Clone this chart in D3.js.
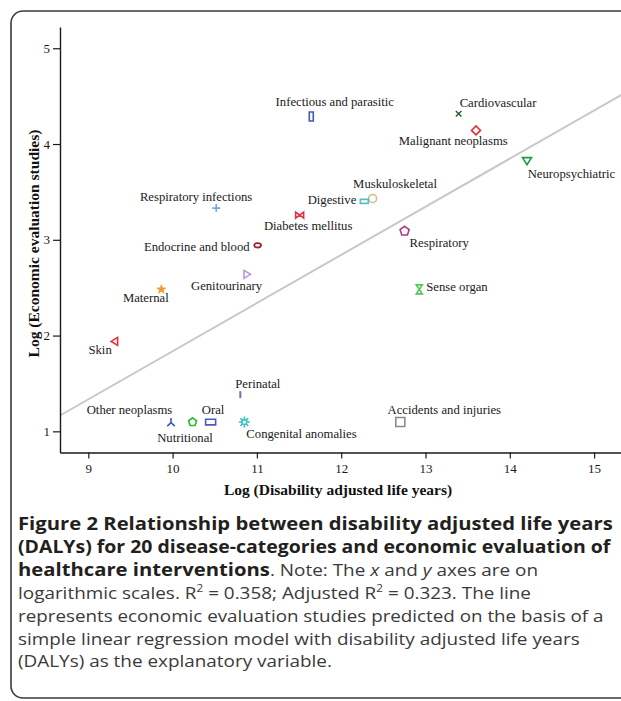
<!DOCTYPE html>
<html>
<head>
<meta charset="utf-8">
<script src="https://cdn.jsdelivr.net/npm/d3@7"></script>
<style>
  html, body { margin: 0; padding: 0; background: #fff; }
  svg { display: block; }
  .cap { white-space: pre; }
</style>
</head>
<body>
<svg id="chart" width="621" height="701"></svg>
<script>
// ---- Data ----
const categories = [
  "Infectious and parasitic", "Cardiovascular", "Malignant neoplasms", "Neuropsychiatric",
  "Muskuloskeletal", "Digestive", "Diabetes mellitus", "Respiratory infections",
  "Endocrine and blood", "Respiratory", "Genitourinary", "Maternal", "Sense organ",
  "Skin", "Perinatal", "Other neoplasms", "Nutritional", "Oral",
  "Congenital anomalies", "Accidents and injuries"
];
const logDALYs = [
  11.645, 13.393, 13.599, 14.204,
  12.373, 12.274, 11.507, 10.518,
  11.008, 12.752, 10.882, 9.866, 12.926,
  9.312, 10.803, 9.981, 10.237, 10.451,
  10.851, 12.701
];
const logStudies = [
  4.288, 4.316, 4.142, 3.821,
  3.432, 3.401, 3.258, 3.331,
  2.942, 3.091, 2.639, 2.482, 2.482,
  1.939, 1.383, 1.097, 1.097, 1.097,
  1.097, 1.097
];
const xTicks = [9, 10, 11, 12, 13, 14, 15];
const yTicks = [1, 2, 3, 4, 5];
// regression line: studies = intercept + slope * DALYs
const regIntercept = -3.190;
const regSlope = 0.5027;

// ---- Styles (marker shape, colour, label placement) ----
const styles = {
  "Infectious and parasitic": {shape: "tallRect", color: "#3b5cb0", dx: 23.5, dy: -10, anchor: "middle"},
  "Cardiovascular":           {shape: "cross",    color: "#1d5e30", dx: 1,    dy: -7,  anchor: "start"},
  "Malignant neoplasms":      {shape: "diamond",  color: "#e8303a", dx: -22.7,dy: 14.3,anchor: "middle"},
  "Neuropsychiatric":         {shape: "triDown",  color: "#1a9a48", dx: 0.7,  dy: 17,  anchor: "start"},
  "Muskuloskeletal":          {shape: "circle",   color: "#c9c28a", dx: 22.4, dy: -10.7,anchor: "middle"},
  "Digestive":                {shape: "wideRect", color: "#5cbcc8", dx: -8,   dy: 3,   anchor: "end"},
  "Diabetes mellitus":        {shape: "bowtie",   color: "#e83040", dx: 8.5,  dy: 14.6,anchor: "middle"},
  "Respiratory infections":   {shape: "plus",     color: "#78a6da", dx: -20.2,dy: -7,  anchor: "middle"},
  "Endocrine and blood":      {shape: "ellipse",  color: "#a01c2c", dx: -8,   dy: 5.7, anchor: "end"},
  "Respiratory":              {shape: "pentagon", color: "#b03a88", dx: 5,    dy: 16,  anchor: "start"},
  "Genitourinary":            {shape: "triRight", color: "#b89ad8", dx: -20.4,dy: 15.3,anchor: "middle"},
  "Maternal":                 {shape: "star",     color: "#f59a2a", dx: -15.5,dy: 12.7,anchor: "middle"},
  "Sense organ":              {shape: "hourglass",color: "#4cc850", dx: 7,    dy: 2,   anchor: "start"},
  "Skin":                     {shape: "triLeft",  color: "#e8303a", dx: -14.5,dy: 12.3,anchor: "middle"},
  "Perinatal":                {shape: "vline",    color: "#7070b0", dx: -5,   dy: -7,  anchor: "start"},
  "Other neoplasms":          {shape: "wye",      color: "#3a58b8", dx: 1.3,  dy: -8.4,anchor: "end"},
  "Nutritional":              {shape: "pentagonS",color: "#2cb82c", dx: -7.6, dy: 20,  anchor: "middle"},
  "Oral":                     {shape: "oralRect", color: "#4a5ab8", dx: 2.4,  dy: -8.4,anchor: "middle"},
  "Congenital anomalies":     {shape: "burst",    color: "#40c0c8", dx: 2,    dy: 15.6,anchor: "start"},
  "Accidents and injuries":   {shape: "square",   color: "#8a8a8a", dx: 44,   dy: -8.4,anchor: "middle"}
};

function markerPath(shape) {
  const p = d3.path();
  const poly = (pts) => { p.moveTo(pts[0][0], pts[0][1]); pts.slice(1).forEach(q => p.lineTo(q[0], q[1])); p.closePath(); };
  switch (shape) {
    case "tallRect": p.rect(-2, -4.5, 4, 9); break;
    case "wideRect": p.rect(-4, -2, 8, 4); break;
    case "oralRect": p.rect(-5, -2.8, 10, 5.6); break;
    case "square": p.rect(-4.5, -4.5, 9, 9); break;
    case "cross": p.moveTo(-2.8,-2.8); p.lineTo(2.8,2.8); p.moveTo(2.8,-2.8); p.lineTo(-2.8,2.8); break;
    case "plus": p.moveTo(-4,0); p.lineTo(4,0); p.moveTo(0,-4); p.lineTo(0,4); break;
    case "diamond": poly([[0,-4.5],[4.5,0],[0,4.5],[-4.5,0]]); break;
    case "triDown": poly([[-4.5,-3.5],[4.5,-3.5],[0,3.5]]); break;
    case "triRight": poly([[-3,-4],[3.5,0],[-3,4]]); break;
    case "triLeft": poly([[3,-4],[-3.5,0],[3,4]]); break;
    case "circle": p.arc(0,0,4,0,2*Math.PI); break;
    case "ellipse": break;
    case "bowtie": poly([[-4,-3],[0,0],[-4,3]]); poly([[4,-3],[0,0],[4,3]]); break;
    case "hourglass": poly([[-3,-4.5],[3,-4.5],[0,0]]); poly([[-3,4.5],[3,4.5],[0,0]]); break;
    case "pentagon": case "pentagonS": {
      const r = shape === "pentagon" ? 4.8 : 4.2;
      poly(d3.range(5).map(i => [r*Math.sin(i*2*Math.PI/5), -r*Math.cos(i*2*Math.PI/5)]));
      break;
    }
    case "star": {
      const pts = d3.range(10).map(i => { const r = i % 2 ? 1.8 : 4.6; const a = i*Math.PI/5; return [r*Math.sin(a), -r*Math.cos(a)]; });
      poly(pts); break;
    }
    case "vline": p.moveTo(0,-3.5); p.lineTo(0,3.5); break;
    case "wye": p.moveTo(0,-4); p.lineTo(0,0.5); p.lineTo(-3.8,4); p.moveTo(0,0.5); p.lineTo(3.8,4); break;
    case "burst":
      d3.range(8).forEach(i => { const a = i*Math.PI/4; p.moveTo(2.4*Math.cos(a), 2.4*Math.sin(a)); p.lineTo(5.5*Math.cos(a), 5.5*Math.sin(a)); });
      p.moveTo(2.4,0); p.arc(0,0,2.4,0,2*Math.PI);
      break;
  }
  return p.toString();
}

const svg = d3.select("#chart");

// frame
svg.append("rect")
  .attr("x", 11).attr("y", 11).attr("width", 700).attr("height", 687)
  .attr("rx", 12).attr("ry", 12)
  .attr("fill", "none").attr("stroke", "#3a3a3a").attr("stroke-width", 1.6);

const x = d3.scaleLinear().domain([8.664, 15.35]).range([60, 623.6]);
const y = d3.scaleLinear().domain([0.779, 5.222]).range([452.5, 27]);

const serif = "'Liberation Serif', 'Times New Roman', serif";

// regression line
const xDom = x.domain();
svg.append("line")
  .attr("x1", x(xDom[0])).attr("y1", y(regIntercept + regSlope * xDom[0]))
  .attr("x2", x(xDom[1])).attr("y2", y(regIntercept + regSlope * xDom[1]))
  .attr("stroke", "#c8c8c8").attr("stroke-width", 2);

// axes
const yAxis = svg.append("g").attr("transform", "translate(60,0)")
  .call(d3.axisLeft(y).tickValues(yTicks).tickSize(7).tickSizeOuter(0).tickPadding(3).tickFormat(d3.format("d")));
const xAxis = svg.append("g").attr("transform", "translate(0,452.5)")
  .call(d3.axisBottom(x).tickValues(xTicks).tickSize(6).tickSizeOuter(0).tickPadding(5).tickFormat(d3.format("d")));
[yAxis, xAxis].forEach(g => {
  g.selectAll("path.domain").attr("stroke", "#1a1a1a").attr("stroke-width", 1.4);
  g.selectAll(".tick line").attr("stroke", "#1a1a1a").attr("stroke-width", 1.2);
  g.selectAll(".tick text").attr("font-family", serif).attr("font-size", 13).attr("fill", "#1a1a1a");
});

// axis titles
svg.append("text")
  .attr("x", 338).attr("y", 495)
  .attr("text-anchor", "middle")
  .attr("font-family", serif).attr("font-weight", "bold").attr("font-size", 15.5).attr("fill", "#111")
  .text("Log (Disability adjusted life years)");
svg.append("text")
  .attr("transform", "translate(39,243.5) rotate(-90)")
  .attr("text-anchor", "middle")
  .attr("font-family", serif).attr("font-weight", "bold").attr("font-size", 15.5).attr("fill", "#111")
  .text("Log (Economic evaluation studies)");

// points
const pts = categories.map((c, i) => ({name: c, dx: logDALYs[i], st: logStudies[i]}));
const g = svg.append("g");
pts.forEach(d => {
  const s = styles[d.name];
  const px = x(d.dx), py = y(d.st);
  if (s.shape === "ellipse") {
    g.append("ellipse").attr("cx", px).attr("cy", py).attr("rx", 3.4).attr("ry", 2.2)
      .attr("fill", "none").attr("stroke", s.color).attr("stroke-width", 1.8);
  } else {
    const filled = s.shape === "star";
    g.append("path").attr("transform", `translate(${px},${py})`)
      .attr("d", markerPath(s.shape))
      .attr("fill", filled ? s.color : "none")
      .attr("stroke", s.color)
      .attr("stroke-width", s.shape === "vline" ? 2 : (s.shape === "cross" ? 1.4 : (filled ? 0.8 : 1.6)))
      .attr("stroke-linejoin", "miter");
  }
  g.append("text")
    .attr("x", px + s.dx).attr("y", py + s.dy)
    .attr("text-anchor", s.anchor)
    .attr("font-family", serif).attr("font-size", 12.7).attr("fill", "#1a1a1a")
    .text(d.name);
});

// caption
const sans = "'Open Sans', 'Noto Sans', sans-serif";
const captionLines = [
  [{t: "Figure 2 Relationship between disability adjusted life years", b: true}],
  [{t: "(DALYs) for 20 disease-categories and economic evaluation of", b: true}],
  [{t: "healthcare interventions", b: true}, {t: ". Note: The "}, {t: "x", i: true}, {t: " and "}, {t: "y", i: true}, {t: " axes are on"}],
  [{t: "logarithmic scales. R"}, {t: "2", sup: true}, {t: " = 0.358; Adjusted R"}, {t: "2", sup: true}, {t: " = 0.323. The line"}],
  [{t: "represents economic evaluation studies predicted on the basis of a"}],
  [{t: "simple linear regression model with disability adjusted life years"}],
  [{t: "(DALYs) as the explanatory variable."}]
];
// right edge of full-width lines in the reference (null: use default condensing)
const captionRight = [613, 611, null, null, 604, 580, null];
const capSize = 17, capLeft = 18, capTop = 530, capLead = 22.9;

function segText(seg) {
  return svg.append("text").attr("class", "cap")
    .attr("font-family", sans)
    .attr("font-weight", seg.b ? "bold" : "normal")
    .attr("font-style", seg.i ? "italic" : "normal")
    .attr("font-size", seg.sup ? capSize * 0.62 : capSize)
    .attr("fill", seg.b ? "#231f20" : "#3a3a3a")
    .text(seg.t);
}
function natWidth(seg) { const t = segText(seg); const w = t.node().getComputedTextLength(); t.remove(); return w; }
const sBold = (captionRight[0] - capLeft) / natWidth(captionLines[0][0]);
const sReg = (captionRight[5] - capLeft) / natWidth(captionLines[5][0]);

captionLines.forEach((line, li) => {
  let cx = capLeft;
  const by = capTop + li * capLead;
  let lineScale = null;
  if (captionRight[li] !== null && line.length === 1) {
    lineScale = (captionRight[li] - capLeft) / natWidth(line[0]);
  }
  line.forEach(seg => {
    const t = segText(seg);
    const w = t.node().getComputedTextLength();
    const s = lineScale !== null ? lineScale : (seg.b ? sBold : sReg);
    t.attr("transform", `translate(${cx},${seg.sup ? by - 7 : by}) scale(${s},1)`);
    cx += w * s;
  });
});
</script>
</body>
</html>
